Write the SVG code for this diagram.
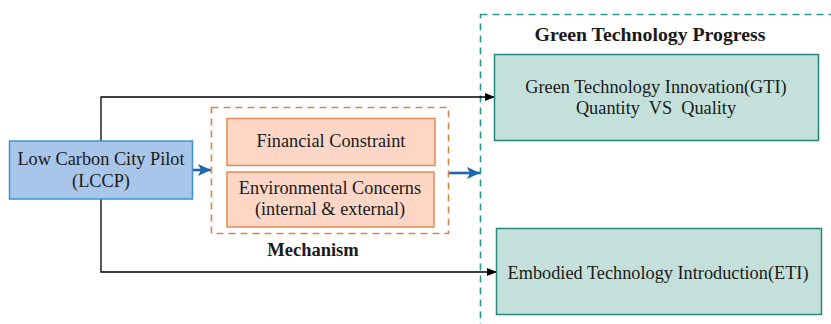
<svg xmlns="http://www.w3.org/2000/svg" width="831" height="324" viewBox="0 0 831 324">
<defs>
<marker id="ab" markerWidth="10" markerHeight="10" refX="9" refY="5" orient="auto" markerUnits="userSpaceOnUse"><path d="M0,1 L10,5 L0,9 Z" fill="#000"/></marker>
<marker id="au" markerWidth="14" markerHeight="14" refX="13" refY="7" orient="auto" markerUnits="userSpaceOnUse"><path d="M0,1 L13,7 L0,13 L3,7 Z" fill="#1d67ad"/></marker>
</defs>
<style>
text{fill:#1a1a1a;text-anchor:middle}
.t{font-size:18.3px}
.b{font-size:18.5px;font-weight:bold}
.h{font-size:19.8px;font-weight:bold}
.blue{fill:#a8c5ea;stroke:#3d93d6;stroke-width:1.5}
.org{fill:#fdd6c6;stroke:#e48a52;stroke-width:1.5}
.teal{fill:#c4e0da;stroke:#27877a;stroke-width:1.5}
.k{fill:none;stroke:#000;stroke-width:1.3}
.bl{fill:none;stroke:#1d67ad;stroke-width:2.6}
</style>
<g font-family="Liberation Serif, DejaVu Serif, serif">
<rect x="480.5" y="14.5" width="360" height="320" fill="none" stroke="#2a9a8d" stroke-width="1.6" stroke-dasharray="7,5"/>
<text class="h" x="650" y="41">Green Technology Progress</text>
<g id="connectors">
<path class="k" d="M101,141 V97 H494" marker-end="url(#ab)"/>
<path class="k" d="M101,199 V272 H496" marker-end="url(#ab)"/>
<path class="bl" d="M193,170 H211" marker-end="url(#au)"/>
<path class="bl" d="M449,173 H480" marker-end="url(#au)"/>
</g>
<g id="lccp">
<rect class="blue" x="9.5" y="141" width="183" height="58"/>
<text class="t" x="101" y="165">Low Carbon City Pilot</text>
<text class="t" x="101" y="187">(LCCP)</text>
</g>
<g id="mechanism">
<rect x="211.5" y="107.5" width="237" height="126" fill="none" stroke="#d9824a" stroke-width="1.6" stroke-dasharray="7,5"/>
<text class="b" x="313" y="256">Mechanism</text>
</g>
<g id="financial">
<rect class="org" x="227" y="118.5" width="208" height="47"/>
<text class="t" x="331" y="147">Financial Constraint</text>
</g>
<g id="environmental">
<rect class="org" x="227" y="172" width="207" height="55"/>
<text class="t" x="330" y="194">Environmental Concerns</text>
<text class="t" x="330" y="215">(internal &amp; external)</text>
</g>
<g id="gti">
<rect class="teal" x="494.5" y="54.5" width="324" height="86"/>
<text class="t" x="656" y="93">Green Technology Innovation(GTI)</text>
<text class="t" x="656" y="114" xml:space="preserve">Quantity  VS  Quality</text>
</g>
<g id="eti">
<rect class="teal" x="496.5" y="228.5" width="325" height="86"/>
<text class="t" x="658" y="279">Embodied Technology Introduction(ETI)</text>
</g>
</g>
</svg>
